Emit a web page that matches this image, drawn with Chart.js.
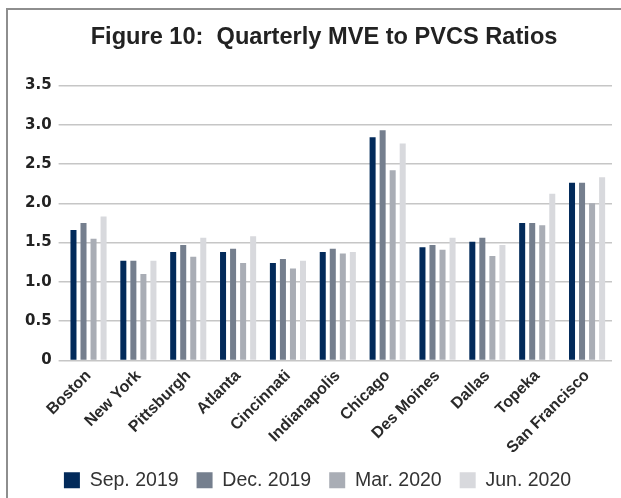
<!DOCTYPE html>
<html>
<head>
<meta charset="utf-8">
<script src="https://cdn.jsdelivr.net/npm/chart.js@4.4.1/dist/chart.umd.min.js"></script>
<style>
  html, body { margin: 0; padding: 0; background: #ffffff; }
  body { width: 621px; height: 498px; overflow: hidden; position: relative; }
  #frame {
    position: absolute; left: 6px; top: 8px; width: 615px; height: 490px;
    border-left: 2px solid #8e8e8e; border-top: 2px solid #8e8e8e;
  }
  #wrap { position: absolute; left: 0; top: 0; width: 613px; height: 488px; }
</style>
</head>
<body>
<div id="frame"><div id="wrap"><canvas id="c"></canvas></div></div>
<script>
const titleText = 'Figure 10:  Quarterly MVE to PVCS Ratios';
const categories = ['Boston', 'New York', 'Pittsburgh', 'Atlanta', 'Cincinnati', 'Indianapolis', 'Chicago', 'Des Moines', 'Dallas', 'Topeka', 'San Francisco'];
const seriesNames = ['Sep. 2019', 'Dec. 2019', 'Mar. 2020', 'Jun. 2020'];
const sep2019 = [1.66, 1.27, 1.38, 1.38, 1.24, 1.38, 2.84, 1.44, 1.51, 1.75, 2.26];
const dec2019 = [1.75, 1.27, 1.47, 1.42, 1.29, 1.42, 2.93, 1.47, 1.56, 1.75, 2.26];
const mar2020 = [1.55, 1.10, 1.32, 1.24, 1.17, 1.36, 2.42, 1.41, 1.33, 1.72, 2.00];
const jun2020 = [1.83, 1.27, 1.56, 1.58, 1.27, 1.38, 2.76, 1.56, 1.47, 2.12, 2.33];
const yTicks = [0, 0.5, 1.0, 1.5, 2.0, 2.5, 3.0, 3.5];
const colors = ['#022a5a', '#757f8e', '#a9adb5', '#d8d9dd'];

const seriesValues = [sep2019, dec2019, mar2020, jun2020];
const datasets = seriesNames.map((name, i) => ({
  label: name,
  data: seriesValues[i],
  backgroundColor: colors[i],
  borderWidth: 0,
  categoryPercentage: 0.805,
  barPercentage: 0.6
}));

new Chart(document.getElementById('c'), {
  type: 'bar',
  data: { labels: categories, datasets: datasets },
  options: {
    responsive: true,
    maintainAspectRatio: false,
    animation: false,
    devicePixelRatio: 1,
    layout: { padding: { left: 15, right: 9, top: 0, bottom: -2 } },
    plugins: {
      title: {
        display: true,
        text: '\u00a0\u00a0' + titleText,
        color: '#222222',
        font: { family: 'Liberation Sans', size: 23.6, weight: 'bold' },
        padding: { top: 13, bottom: 34 }
      },
      legend: {
        position: 'bottom',
        labels: {
          color: '#333333',
          font: { family: 'Liberation Sans', size: 19.5, weight: 'normal' },
          boxWidth: 16, boxHeight: 16, padding: 18
        }
      },
      tooltip: { enabled: false }
    },
    scales: {
      x: {
        grid: { display: false, drawTicks: false },
        border: { display: false },
        afterFit: (axis) => { axis.height = 92; },
        ticks: {
          color: '#2a2a2a',
          font: { family: 'Liberation Sans', size: 16, weight: 'bold' },
          minRotation: 45, maxRotation: 45, padding: 6, autoSkip: false
        }
      },
      y: {
        min: 0, max: 3.5,
        afterBuildTicks: (axis) => { axis.ticks = yTicks.map(v => ({ value: v })); },
        afterFit: (axis) => { axis.width = 40.6; },
        grid: { color: '#c6c6c6', lineWidth: 1.5, drawTicks: true, tickLength: 5 },
        border: { display: false },
        ticks: {
          color: '#222222',
          font: { family: 'DejaVu Sans', size: 15, weight: 'bold' },
          padding: 7,
          callback: (v) => v === 0 ? '0' : Number(v).toFixed(1)
        }
      }
    }
  }
});
</script>
</body>
</html>
